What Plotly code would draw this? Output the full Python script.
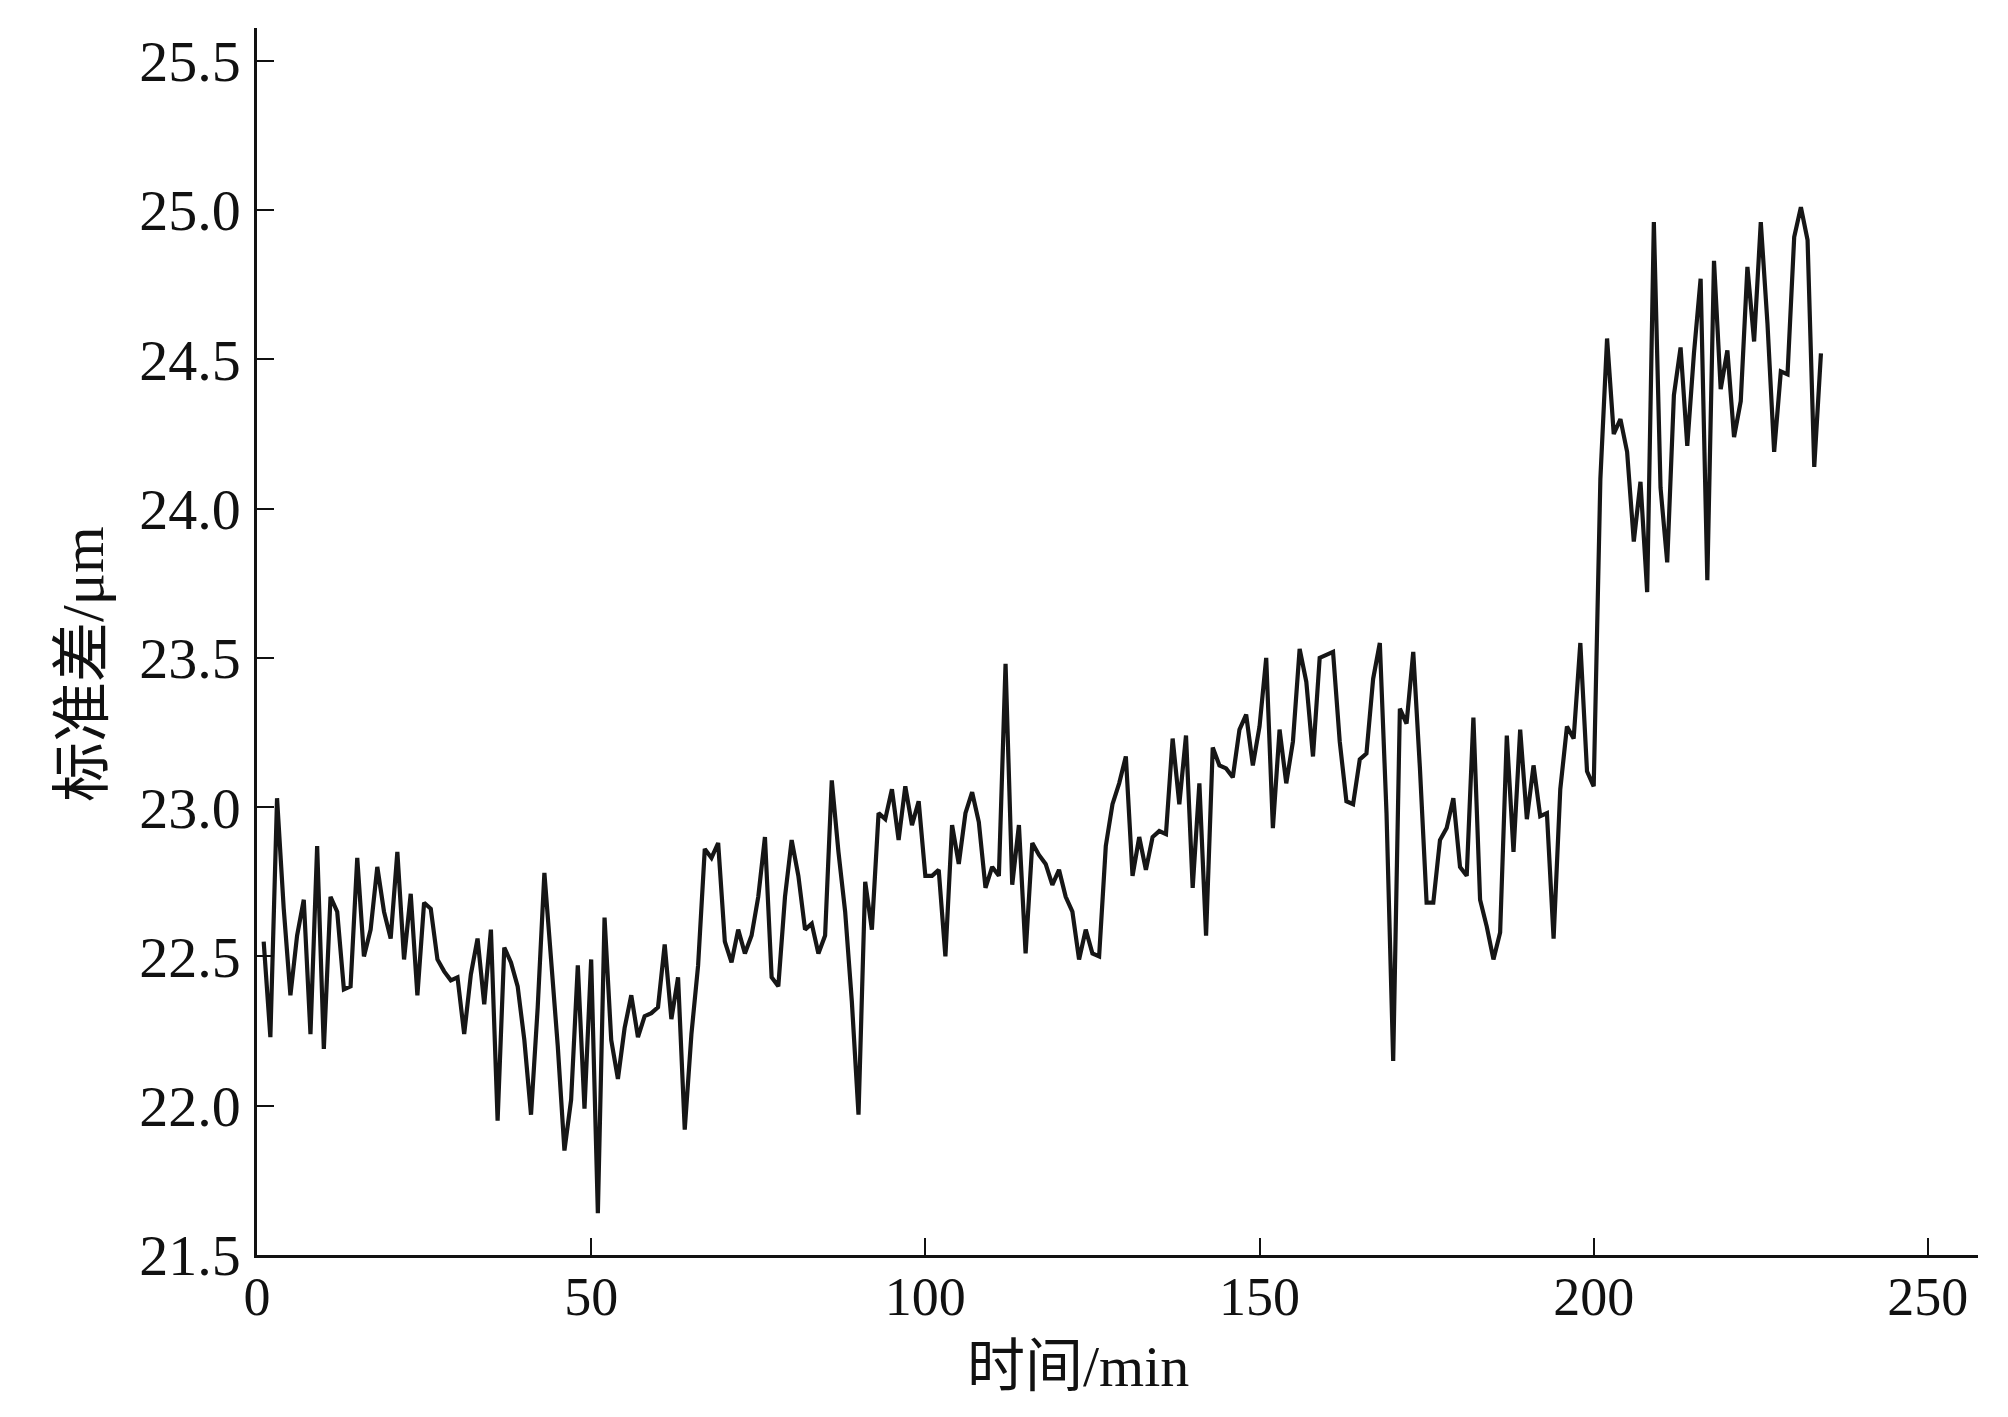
import plotly.graph_objects as go

# time in minutes
time_min = list(range(1, 235))

# standard deviation values (µm)
std_um = [
    22.55, 22.23, 23.03, 22.66, 22.37, 22.57, 22.69, 22.24, 22.87, 22.19,
    22.70, 22.65, 22.39, 22.40, 22.83, 22.50, 22.59, 22.80, 22.65, 22.56,
    22.85, 22.49, 22.71, 22.37, 22.68, 22.66, 22.49, 22.45, 22.42, 22.43,
    22.24, 22.44, 22.56, 22.34, 22.59, 21.95, 22.53, 22.48, 22.40, 22.22,
    21.97, 22.33, 22.78, 22.48, 22.20, 21.85, 22.02, 22.47, 21.99, 22.49,
    21.64, 22.63, 22.22, 22.09, 22.26, 22.37, 22.23, 22.30, 22.31, 22.33,
    22.54, 22.29, 22.43, 21.92, 22.24, 22.47, 22.86, 22.83, 22.88, 22.55,
    22.48, 22.59, 22.51, 22.57, 22.70, 22.90, 22.43, 22.40, 22.70, 22.89,
    22.77, 22.59, 22.61, 22.51, 22.57, 23.09, 22.85, 22.65, 22.35, 21.97,
    22.75, 22.59, 22.98, 22.96, 23.06, 22.89, 23.07, 22.94, 23.02, 22.77,
    22.77, 22.79, 22.50, 22.94, 22.81, 22.98, 23.05, 22.95, 22.73, 22.80,
    22.77, 23.48, 22.74, 22.94, 22.51, 22.88, 22.84, 22.81, 22.74, 22.79,
    22.70, 22.65, 22.49, 22.59, 22.51, 22.50, 22.87, 23.01, 23.08, 23.17,
    22.77, 22.90, 22.79, 22.90, 22.92, 22.91, 23.23, 23.01, 23.24, 22.73,
    23.08, 22.57, 23.20, 23.14, 23.13, 23.10, 23.26, 23.31, 23.14, 23.27,
    23.50, 22.93, 23.26, 23.08, 23.22, 23.53, 23.42, 23.17, 23.50, 23.51,
    23.52, 23.22, 23.02, 23.01, 23.16, 23.18, 23.43, 23.55, 22.98, 22.15,
    23.33, 23.28, 23.52, 23.13, 22.68, 22.68, 22.89, 22.93, 23.03, 22.80,
    22.77, 23.30, 22.69, 22.60, 22.49, 22.58, 23.24, 22.85, 23.26, 22.96,
    23.14, 22.97, 22.98, 22.56, 23.06, 23.27, 23.23, 23.55, 23.12, 23.07,
    24.10, 24.57, 24.25, 24.30, 24.19, 23.89, 24.09, 23.72, 24.96, 24.07,
    23.82, 24.38, 24.54, 24.21, 24.52, 24.77, 23.76, 24.83, 24.40, 24.53,
    24.24, 24.36, 24.81, 24.56, 24.96, 24.62, 24.19, 24.46, 24.45, 24.91,
    25.01, 24.90, 24.14, 24.52,
]

x_ticks = [0, 50, 100, 150, 200, 250]
y_ticks = [21.5, 22.0, 22.5, 23.0, 23.5, 24.0, 24.5, 25.0, 25.5]
x_title = "时间/min"
y_title = "标准差/μm"

FONT = "Liberation Serif, Times New Roman, Noto Sans CJK SC, serif"

fig = go.Figure(
    go.Scatter(
        x=time_min,
        y=std_um,
        mode="lines",
        line=dict(color="#161616", width=4.2),
        showlegend=False,
    )
)

# the page body adds an 8 px margin around the figure
fig.update_layout(
    width=1992,
    height=1401,
    paper_bgcolor="white",
    plot_bgcolor="white",
    margin=dict(l=249, r=22, t=20, b=154),
    font=dict(family=FONT, color="#111111", size=52),
    annotations=[
        dict(
            text=x_title, xref="paper", yref="paper", x=0.477, y=-0.0905,
            xanchor="center", yanchor="middle", showarrow=False,
            font=dict(family=FONT, size=58, color="#111111"),
        ),
        dict(
            text=y_title, xref="paper", yref="paper", x=-0.1011, y=0.4817,
            xanchor="center", yanchor="middle", showarrow=False, textangle=-90,
            font=dict(family=FONT, size=60, color="#111111"),
        ),
    ],
)

fig.update_xaxes(
    range=[0, 257.5],
    tickvals=x_ticks,
    ticktext=[str(v) for v in x_ticks],
    ticks="inside",
    ticklen=17,
    tickwidth=2,
    tickcolor="#111111",
    showline=True,
    linecolor="#111111",
    linewidth=2.5,
    showgrid=False,
    zeroline=False,
    automargin=False,
    tickfont=dict(family=FONT, size=54),
    ticklabelstandoff=-8,
)

fig.update_yaxes(
    range=[21.5, 25.61],
    tickvals=y_ticks,
    ticktext=[f"{v:.1f}" for v in y_ticks],
    ticks="inside",
    ticklen=17,
    tickwidth=2,
    tickcolor="#111111",
    showline=True,
    linecolor="#111111",
    linewidth=2.5,
    showgrid=False,
    zeroline=False,
    automargin=False,
    tickfont=dict(family=FONT, size=58),
    ticklabelstandoff=2,
)

fig.write_html("out.html")
